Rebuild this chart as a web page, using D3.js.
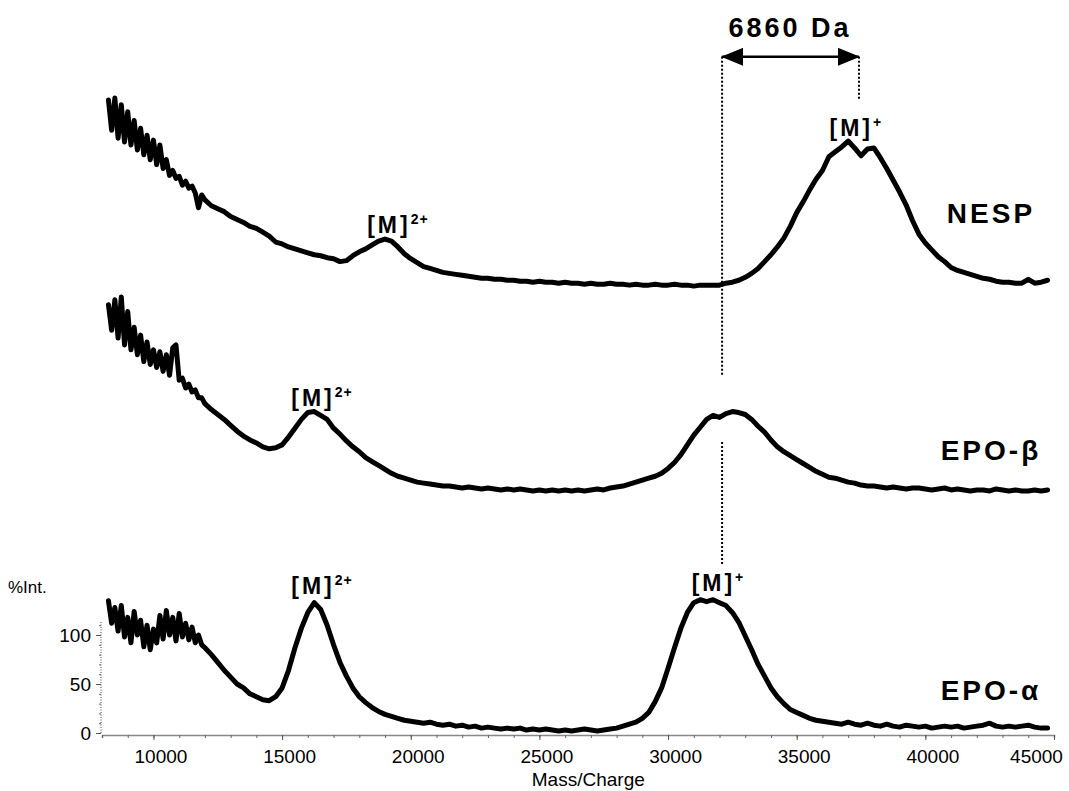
<!DOCTYPE html>
<html>
<head>
<meta charset="utf-8">
<script src="https://cdn.jsdelivr.net/npm/d3@7"></script>
<style>
  body { margin: 0; background: #fff; }
  svg { display: block; font-family: "Liberation Sans", Arial, sans-serif; }
  .trace { fill: none; stroke: #000; stroke-width: 5; stroke-linejoin: round; stroke-linecap: round; }
  .guide { stroke: #000; stroke-width: 2; stroke-dasharray: 2,2; }
  .tag { font-weight: bold; letter-spacing: 3px; }
  .axis-lbl { font-size: 19px; }
</style>
</head>
<body>
<div id="chart"></div>
<script>
// sampling grid of the spectra (Da): finer where the low-mass noise is
const masses = d3.range(8250, 12000, 125).concat(d3.range(12000, 44751, 250));

// intensities, in %Int. units above each trace's own baseline
const epoAlphaValues = [135,112,128,104,130,98,118,92,124,100,
  115,88,110,85,106,92,120,96,125,100,
  118,94,122,98,112,95,108,92,100,90,
  87,80,72,64,57,
  50,46,40,37,34,33,37,46,64,87,
  107,123,133,126,110,90,72,58,46,37,
  31,26,22,19,17,15,13,12,
  11,10,11,9,8,9,7,
  8,6,7,5,6,5,4,5,
  4,5,3,4,3,4,3,2,
  3,2,3,4,3,2,3,4,
  5,7,9,11,15,21,32,46,66,87,107,
  123,133,136,134,136,133,130,123,113,99,
  85,70,58,46,37,30,24,21,18,15,13,12,
  11,10,9,11,9,8,10,8,7,9,7,6,8,7,6,7,5,6,7,6,7,5,6,7,8,10,7,6,7,6,7,8,6,5,5];

const epoBetaValues = [194,168,199,160,202,153,187,148,171,143,
  163,136,156,133,148,130,146,126,143,122,
  150,153,117,119,109,113,105,107,99,99,
  93,87,82,77,71,
  65,60,56,53,49,47,48,51,59,68,
  77,84,85,81,77,68,62,55,49,44,
  38,34,30,26,22,19,17,15,
  13,12,11,10,9,9,8,
  7,8,7,6,7,6,5,6,
  5,6,5,4,5,4,5,4,
  5,4,5,4,5,6,5,7,
  8,9,11,13,15,17,19,22,27,33,41,
  51,61,69,77,81,79,83,85,84,82,
  77,70,64,56,49,44,40,36,32,28,24,21,
  18,17,15,13,12,10,9,9,8,
  7,8,7,6,7,7,6,5,6,7,5,6,5,4,5,5,4,6,5,4,5,4,4,5,4,5];

const nespValues = [192,161,194,153,187,149,180,146,171,141,
  163,136,156,131,151,126,146,122,131,115,
  120,112,114,105,109,102,104,97,82,95,
  90,84,81,78,73,
  70,67,63,61,57,53,47,45,42,40,
  38,36,34,33,31,30,27,28,33,37,
  40,44,48,50,48,42,35,30,
  26,22,20,18,16,15,14,
  13,12,11,10,10,9,9,8,
  8,7,7,6,7,6,6,5,
  6,5,5,4,5,4,4,5,
  4,4,3,4,3,3,4,3,3,4,3,3,
  2,3,3,3,3,
  5,6,8,11,15,20,27,34,42,51,
  63,77,88,100,111,120,134,139,144,150,
  143,135,142,143,133,122,110,98,85,69,
  55,46,39,32,27,21,18,16,14,12,
  10,9,7,6,6,5,5,9,5,6,8];

const traceNames = ["NESP", "EPO-\u03b2", "EPO-\u03b1"];
const traceSeries = [nespValues, epoBetaValues, epoAlphaValues];
const traceOffsets = [454, 243, 0];   // vertical stacking, in %Int. units

const xMajorTicks = [10000, 15000, 20000, 25000, 30000, 35000, 40000, 45000];
const yTicks = [0, 50, 100];

// peak labels: [trace index, mass, level above baseline, charge]
const peakLabels = [
  [0, 19500, 56, "2+"],
  [0, 37300, 155, "+"],
  [1, 16550, 91, "2+"],
  [2, 16550, 142, "2+"],
  [2, 31940, 145, "+"]
];
const nameLabelMass = 42550;
const nameLabelLevels = [66, 36, 34];
const guideMasses = [32100, 37420];
const shiftLabel = "6860 Da";

const width = 1069, height = 791;

const svg = d3.select("#chart").append("svg")
    .attr("width", width)
    .attr("height", height);

const x = d3.scaleLinear().domain([8000, 45000]).range([102, 1054]);
const y = d3.scaleLinear().domain([0, 100]).range([733, 635]);

// x axis
const xAxisY = 735;
svg.append("g")
    .attr("transform", `translate(0,${xAxisY})`)
    .call(d3.axisBottom(x).tickValues(d3.range(8000, 45001, 1000)).tickSize(3).tickFormat(""))
    .call(g => g.select(".domain").attr("stroke", "#888").attr("stroke-width", 1.5))
    .call(g => g.selectAll(".tick line").attr("stroke", "#666"));

const xAxis = svg.append("g")
    .attr("transform", `translate(0,${xAxisY})`)
    .call(d3.axisBottom(x).tickValues(xMajorTicks).tickSize(5).tickPadding(10).tickFormat(d => d))
    .call(g => g.select(".domain").remove())
    .call(g => g.selectAll(".tick line").attr("stroke", "#555"));

xAxis.selectAll(".tick text")
    .attr("class", "axis-lbl")
    .attr("fill", "#000")
    .attr("font-family", null)
    .attr("font-size", null)
    .attr("dx", d => d === 45000 ? -18 : 7);

svg.append("text")
    .attr("class", "axis-lbl")
    .attr("x", x(26900))
    .attr("y", 786)
    .attr("text-anchor", "middle")
    .text("Mass/Charge");

// y axis
const yAxisX = 101;
svg.append("line")
    .attr("x1", yAxisX).attr("x2", yAxisX)
    .attr("y1", y(0)).attr("y2", y(114))
    .attr("stroke", "#666").attr("stroke-width", 1.2).attr("stroke-dasharray", "1,1.5");

svg.append("g")
    .attr("transform", `translate(${yAxisX},0)`)
    .call(d3.axisLeft(y).tickValues(d3.range(0, 111, 10)).tickSize(2).tickFormat(""))
    .call(g => g.select(".domain").remove())
    .call(g => g.selectAll(".tick line").attr("stroke", "#666"));

const yAxis = svg.append("g")
    .attr("transform", `translate(${yAxisX},0)`)
    .call(d3.axisLeft(y).tickValues(yTicks).tickSize(5).tickPadding(5))
    .call(g => g.select(".domain").remove())
    .call(g => g.selectAll(".tick line").attr("stroke", "#555"));

yAxis.selectAll(".tick text")
    .attr("class", "axis-lbl")
    .attr("fill", "#000")
    .attr("font-family", null)
    .attr("font-size", null);

svg.append("text")
    .attr("x", 8)
    .attr("y", 593)
    .attr("font-size", 17)
    .text("%Int.");

// dotted guides and arrow
const guideSegments = [
  [guideMasses[0], 690, 365],
  [guideMasses[0], 297, 171],
  [guideMasses[1], 690, 646]
];
svg.selectAll(".guide")
    .data(guideSegments)
    .enter()
    .append("line")
    .attr("class", "guide")
    .attr("x1", d => x(d[0])).attr("x2", d => x(d[0]))
    .attr("y1", d => y(d[1])).attr("y2", d => y(d[2]));

const defs = svg.append("defs");
defs.append("marker")
    .attr("id", "head")
    .attr("viewBox", "0 0 22 18")
    .attr("refX", 21).attr("refY", 9)
    .attr("markerWidth", 22).attr("markerHeight", 18)
    .attr("markerUnits", "userSpaceOnUse")
    .attr("orient", "auto-start-reverse")
    .append("path")
    .attr("d", "M0,0 L22,9 L0,18 Z")
    .attr("fill", "#000");

svg.append("line")
    .attr("x1", x(guideMasses[0])).attr("x2", x(guideMasses[1]))
    .attr("y1", y(690)).attr("y2", y(690))
    .attr("stroke", "#000").attr("stroke-width", 2.5)
    .attr("marker-start", "url(#head)")
    .attr("marker-end", "url(#head)");

svg.append("text")
    .attr("class", "tag")
    .attr("x", x(34740))
    .attr("y", y(710))
    .attr("text-anchor", "middle")
    .attr("font-size", 27)
    .text(shiftLabel);

// traces
const line = d3.line()
    .x((d, i) => x(masses[i]))
    .curve(d3.curveLinear);

svg.selectAll(".trace")
    .data(traceSeries)
    .enter()
    .append("path")
    .attr("class", "trace")
    .attr("d", (vals, k) => line.y(d => y(d + traceOffsets[k]))(vals));

// names
svg.selectAll(".name")
    .data(traceNames)
    .enter()
    .append("text")
    .attr("class", "tag")
    .attr("x", x(nameLabelMass))
    .attr("y", (d, k) => y(nameLabelLevels[k] + traceOffsets[k]))
    .attr("text-anchor", "middle")
    .attr("font-size", 28)
    .text(d => d);

// peak labels
const pl = svg.selectAll(".peak")
    .data(peakLabels)
    .enter()
    .append("text")
    .attr("class", "tag")
    .attr("x", d => x(d[1]))
    .attr("y", d => y(d[2] + traceOffsets[d[0]]))
    .attr("text-anchor", "middle")
    .attr("font-size", 23);

pl.append("tspan").text("[M]");
pl.append("tspan")
    .attr("dy", -9)
    .attr("font-size", 14)
    .attr("letter-spacing", "1px")
    .text(d => d[3]);
</script>
</body>
</html>
